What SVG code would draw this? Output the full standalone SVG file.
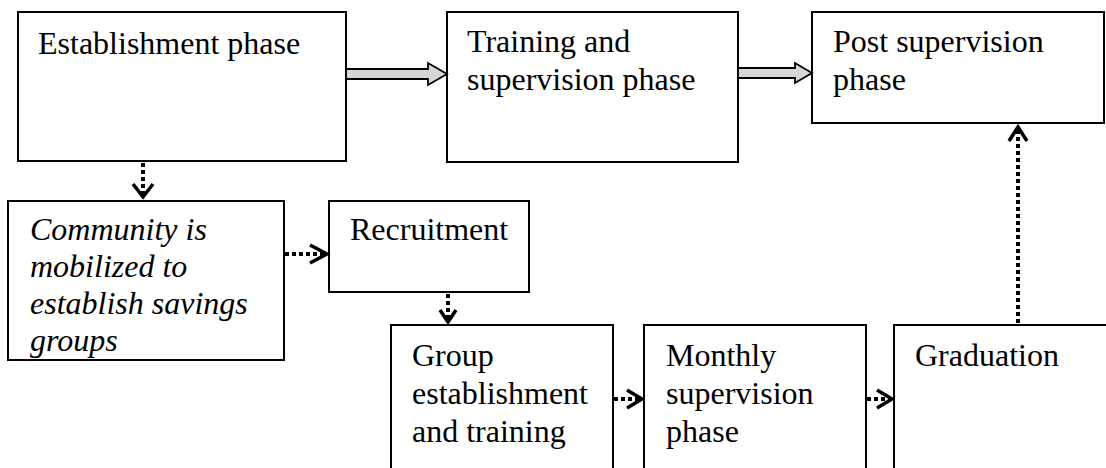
<svg xmlns="http://www.w3.org/2000/svg" width="1106" height="468" viewBox="0 0 1106 468">
<style>
.box{fill:#fff;stroke:#000;stroke-width:2}
.t{font-family:"Liberation Serif","Times New Roman",serif;font-size:32px;fill:#000}
.it{font-style:italic}
.dot{fill:none;stroke:#000;stroke-width:4;stroke-dasharray:4 3}
.chev{fill:none;stroke:#000;stroke-width:3.5;stroke-linejoin:miter}
.block{fill:#d6d6d6;stroke:#000;stroke-width:1.8;stroke-linejoin:miter}
</style>
<rect width="1106" height="468" fill="#fff"/>
<g id="establishment">
<rect class="box" x="18" y="12" width="328" height="149"/>
<text class="t" x="38" y="54">Establishment phase</text>
</g>
<g id="training">
<rect class="box" x="447" y="12" width="291" height="150"/>
<text class="t" x="467" y="52">Training and</text>
<text class="t" x="467" y="90">supervision phase</text>
</g>
<g id="post">
<rect class="box" x="812" y="12" width="292" height="111"/>
<text class="t" x="833" y="52">Post supervision</text>
<text class="t" x="833" y="90">phase</text>
</g>
<g id="community">
<rect class="box" x="8" y="201" width="276" height="159"/>
<text class="t it" x="30" y="240">Community is</text>
<text class="t it" x="30" y="277">mobilized to</text>
<text class="t it" x="30" y="314">establish savings</text>
<text class="t it" x="30" y="351">groups</text>
</g>
<g id="recruitment">
<rect class="box" x="329" y="201" width="200" height="91"/>
<text class="t" x="350" y="240">Recruitment</text>
</g>
<g id="group">
<rect class="box" x="391" y="325" width="222" height="160"/>
<text class="t" x="412" y="366">Group</text>
<text class="t" x="412" y="404">establishment</text>
<text class="t" x="412" y="442">and training</text>
</g>
<g id="monthly">
<rect class="box" x="644" y="325" width="222" height="160"/>
<text class="t" x="666" y="366">Monthly</text>
<text class="t" x="666" y="404">supervision</text>
<text class="t" x="666" y="442">phase</text>
</g>
<g id="graduation">
<rect class="box" x="894" y="325" width="230" height="160"/>
<text class="t" x="915" y="366">Graduation</text>
</g>
<g id="connectors">
<polygon class="block" points="346,69 428,69 428,63 447,74 428,85 428,79 346,79"/>
<polygon class="block" points="738,68 795,68 795,63 812,73 795,83 795,78 738,78"/>
<line class="dot" x1="143" y1="163" x2="143" y2="194"/>
<polyline class="chev" points="133,184 143,197 153,184"/>
<line class="dot" x1="285" y1="254" x2="324" y2="254"/>
<polyline class="chev" points="310,245 327,254 310,263"/>
<line class="dot" x1="448" y1="294" x2="448" y2="319"/>
<polyline class="chev" points="440,310 448,322 456,310"/>
<line class="dot" x1="614" y1="399" x2="640" y2="399"/>
<polyline class="chev" points="627,390 642,399 627,408"/>
<line class="dot" x1="867" y1="399" x2="890" y2="399"/>
<polyline class="chev" points="877,390 892,399 877,408"/>
<line class="dot" x1="1018" y1="323" x2="1018" y2="128"/>
<polyline class="chev" points="1009,141 1018,127 1027,141"/>
</g>
</svg>
